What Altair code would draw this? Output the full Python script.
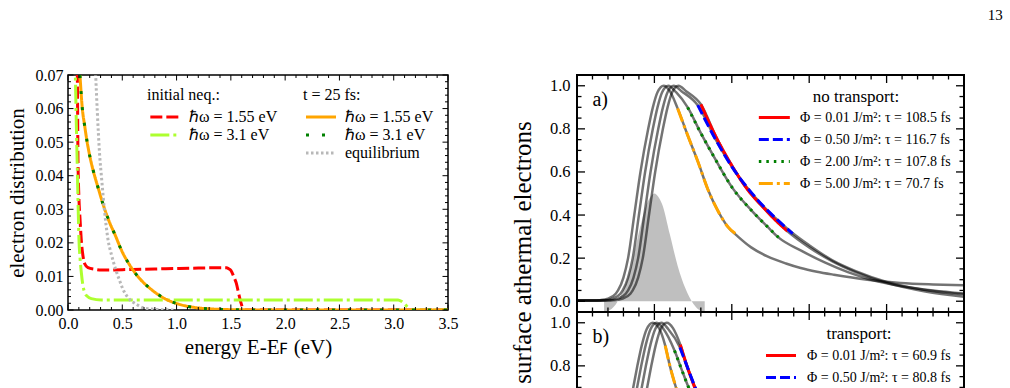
import altair as alt
import pandas as pd

FONT = "Liberation Serif"

# ---------------- left panel: electron distribution ----------------
init_names = ["ℏω = 1.55 eV", "ℏω = 3.1 eV"]
t25_names = ["ℏω = 1.55 eV", "ℏω = 3.1 eV", "equilibrium"]

E_red = [0.082, 0.086, 0.092, 0.100, 0.111, 0.122, 0.138, 0.155, 0.184, 0.25, 0.307, 0.6, 0.9,
         1.2, 1.4, 1.46, 1.48, 1.50, 1.53, 1.55, 1.57, 1.59, 1.61, 1.63, 3.5]
f_red = [0.076, 0.070, 0.0449, 0.034, 0.027, 0.021, 0.0161, 0.0137, 0.0126, 0.0121, 0.0119, 0.0121,
         0.0123, 0.0125, 0.0126, 0.0126, 0.0123, 0.0118, 0.0097, 0.0080, 0.0052, 0.0025, 0.0006, 0.0, 0.0]

E_yg = [0.062, 0.0675, 0.077, 0.086, 0.094, 0.101, 0.112, 0.123, 0.138, 0.154, 0.18, 0.215, 0.307,
        1.0, 2.0, 2.9, 3.04, 3.07, 3.10, 3.13, 3.16, 3.5]
f_yg = [0.076, 0.070, 0.055, 0.0419, 0.030, 0.0211, 0.015, 0.0111, 0.0072, 0.0052, 0.0040, 0.0034,
        0.0030, 0.0030, 0.0030, 0.0030, 0.0030, 0.0026, 0.0018, 0.0008, 0.0, 0.0]

E_or = [0.11, 0.132, 0.153, 0.175, 0.203, 0.239, 0.282, 0.325, 0.375, 0.436, 0.494, 0.568, 0.651,
        0.764, 0.89, 1.035, 1.18, 1.33, 1.49, 1.7, 2.0, 3.5]
f_or = [0.070, 0.060, 0.055, 0.0503, 0.0455, 0.0407, 0.0359, 0.0313, 0.0267, 0.0222, 0.0177, 0.0134,
        0.0097, 0.0062, 0.0034, 0.0016, 0.0007, 0.0003, 0.0001, 0.00003, 0.0, 0.0]

E_gr = [0.11, 0.132, 0.153, 0.175, 0.203, 0.239, 0.282, 0.325, 0.375, 0.436, 0.494, 0.568, 0.651,
        0.764, 0.89, 1.035, 1.18, 1.33, 1.49, 1.7, 2.0, 3.5]
f_gr = [0.070, 0.060, 0.055, 0.0503, 0.0455, 0.0407, 0.0359, 0.0313, 0.0267, 0.0222, 0.0177, 0.0134,
        0.0097, 0.0062, 0.0034, 0.0016, 0.0007, 0.0003, 0.0001, 0.00003, 0.0, 0.0]

E_eq = [0.245, 0.255, 0.27, 0.291, 0.31, 0.335, 0.368, 0.40, 0.44, 0.475, 0.506, 0.553, 0.63, 0.69, 0.8, 1.0]
f_eq = [0.078, 0.070, 0.059, 0.0464, 0.039, 0.030, 0.0211, 0.0165, 0.0120, 0.0088, 0.0062, 0.0037,
        0.0017, 0.0007, 0.0002, 0.0]

xL_major = [0.0, 0.5, 1.0, 1.5, 2.0, 2.5, 3.0, 3.5]
yL_major = [0.0, 0.01, 0.02, 0.03, 0.04, 0.05, 0.06, 0.07]

# ---------------- right panels: surface athermal electrons ----------------
pulse_t = [-65, -60, -50, -40, -30, -20, -10, -5, 0, 5, 10, 20, 30, 40, 50, 60, 65]
pulse_g = [-0.05, -0.045, -0.015, 0.055, 0.16, 0.32, 0.45, 0.485, 0.50, 0.485, 0.45, 0.31, 0.165,
           0.06, -0.01, -0.045, -0.05]

a1_t = [-100, -80, -70, -60, -50, -47, -40, -34, -26, -18, -8, -2, 4, 12, 20, 30, 43, 56, 69, 82,
        95, 108, 125, 146, 170, 189, 210, 232, 275, 318, 360, 400]
a1_y = [0.003, 0.003, 0.005, 0.012, 0.035, 0.05, 0.11, 0.20, 0.40, 0.60, 0.80, 0.90, 0.97, 1.0,
        0.975, 0.895, 0.77, 0.65, 0.52, 0.42, 0.345, 0.30, 0.25, 0.208, 0.175, 0.154, 0.137, 0.123,
        0.10, 0.085, 0.078, 0.074]
a2_t = [-100, -80, -64, -54, -44, -41, -34, -28, -20, -12, -2, 4, 10, 18, 28, 43, 60, 77, 101, 125,
        146, 161, 189, 220, 250, 280, 320, 360, 400]
a2_y = [0.003, 0.003, 0.005, 0.012, 0.035, 0.05, 0.11, 0.20, 0.40, 0.60, 0.80, 0.90, 0.97, 1.0,
        0.97, 0.90, 0.78, 0.67, 0.525, 0.423, 0.346, 0.294, 0.236, 0.18, 0.135, 0.10, 0.07, 0.05, 0.036]
a3_t = [-100, -80, -57, -47, -37, -34, -27, -21, -13, -5, 5, 11, 17, 25, 35, 56, 80, 100, 120, 140,
        160, 178, 200, 230, 260, 300, 350, 400]
a3_y = [0.003, 0.003, 0.005, 0.012, 0.035, 0.05, 0.11, 0.20, 0.40, 0.60, 0.80, 0.90, 0.97, 1.0,
        0.975, 0.91, 0.745, 0.625, 0.527, 0.444, 0.374, 0.318, 0.26, 0.19, 0.14, 0.09, 0.052, 0.032]
a4_t = [-100, -80, -51, -41, -31, -28, -21, -15, -7, 1, 11, 17, 23, 31, 41, 60, 80, 100, 120, 140,
        160, 172, 200, 230, 260, 300, 350, 400]
a4_y = [0.003, 0.003, 0.005, 0.012, 0.035, 0.05, 0.11, 0.20, 0.40, 0.60, 0.80, 0.90, 0.97, 1.0,
        0.975, 0.914, 0.76, 0.63, 0.52, 0.438, 0.364, 0.325, 0.25, 0.185, 0.135, 0.085, 0.045, 0.021]

fitA_names = ["Φ = 0.01 J/m²:  τ = 108.5 fs", "Φ = 0.50 J/m²:  τ = 116.7 fs",
              "Φ = 2.00 J/m²:  τ = 107.8 fs", "Φ = 5.00 J/m²:  τ = 70.7 fs"]
fa_red_t = [60, 80, 100, 120, 140, 160, 172]
fa_red_y = [0.914, 0.76, 0.63, 0.52, 0.438, 0.364, 0.325]
fa_blue_t = [56, 80, 100, 120, 140, 160, 178.6]
fa_blue_y = [0.91, 0.745, 0.625, 0.527, 0.444, 0.374, 0.314]
fa_green_t = [43, 60, 77, 101, 125, 146, 161]
fa_green_y = [0.90, 0.78, 0.67, 0.525, 0.423, 0.346, 0.294]
fa_orange_t = [30, 43, 56, 69, 82, 95, 107.6]
fa_orange_y = [0.895, 0.77, 0.65, 0.52, 0.42, 0.345, 0.307]

b1_t = [-100, -74, -64, -61, -54, -48, -40, -32, -22, -16, -10, -2, 6, 14, 20, 27, 40, 60, 80, 100,
        130, 160, 200, 250, 300, 400]
b1_y = [0.004, 0.012, 0.035, 0.05, 0.11, 0.20, 0.40, 0.60, 0.80, 0.90, 0.97, 1.0, 0.975, 0.894,
        0.80, 0.71, 0.56, 0.40, 0.29, 0.21, 0.14, 0.10, 0.07, 0.05, 0.04, 0.03]
b2_t = [-100, -69, -59, -56, -49, -43, -35, -27, -17, -11, -5, 3, 12, 26, 35, 43, 60, 80, 100, 120,
        150, 200, 250, 300, 400]
b2_y = [0.004, 0.012, 0.035, 0.05, 0.11, 0.20, 0.40, 0.60, 0.80, 0.90, 0.97, 1.0, 0.97, 0.871,
        0.785, 0.71, 0.58, 0.46, 0.36, 0.29, 0.21, 0.13, 0.08, 0.05, 0.03]
b3_t = [-100, -63, -53, -50, -43, -37, -29, -21, -11, -5, 1, 9, 18, 33, 42, 51, 70, 90, 110, 130,
        150, 200, 250, 300, 400]
b3_y = [0.004, 0.012, 0.035, 0.05, 0.11, 0.20, 0.40, 0.60, 0.80, 0.90, 0.97, 1.0, 0.97, 0.885,
        0.80, 0.715, 0.56, 0.44, 0.34, 0.27, 0.21, 0.12, 0.07, 0.045, 0.025]
b4_t = [-100, -56, -46, -43, -36, -30, -22, -14, -4, 2, 8, 16, 24, 33.5, 42, 51, 70, 90, 110, 130,
        150, 200, 250, 300, 400]
b4_y = [0.004, 0.012, 0.035, 0.05, 0.11, 0.20, 0.40, 0.60, 0.80, 0.90, 0.97, 1.0, 0.975, 0.898,
        0.80, 0.71, 0.52, 0.38, 0.28, 0.21, 0.16, 0.09, 0.05, 0.03, 0.015]

fitB_names = ["Φ = 0.01 J/m²:  τ = 60.9 fs", "Φ = 0.50 J/m²:  τ = 80.8 fs",
              "Φ = 2.00 J/m²", "Φ = 5.00 J/m²"]
fb_red_t = [33.5, 42, 51, 70, 90, 110, 130]
fb_red_y = [0.898, 0.80, 0.71, 0.52, 0.38, 0.28, 0.21]
fb_blue_t = [33, 42, 51, 70, 90, 110, 130, 150]
fb_blue_y = [0.885, 0.80, 0.715, 0.56, 0.44, 0.34, 0.27, 0.21]
fb_green_t = [26, 35, 43, 60, 80, 100, 120]
fb_green_y = [0.871, 0.785, 0.71, 0.58, 0.46, 0.36, 0.29]
fb_orange_t = [14, 20, 27, 40, 60, 80, 100]
fb_orange_y = [0.894, 0.80, 0.71, 0.56, 0.40, 0.29, 0.21]

xR_major = [-100, 0, 100, 200, 300, 400]
yR_major = [0.0, 0.2, 0.4, 0.6, 0.8, 1.0]
panel_labels = ["a)", "b)"]


def long_df(items, key="s"):
    rows = []
    for name, xs, ys in items:
        for k, (x, y) in enumerate(zip(xs, ys)):
            rows.append({key: name, "x": x, "y": y, "k": k})
    return pd.DataFrame(rows)


def frame_ticks(xmaj, xmin, ymaj, ymin, xs, ys, xax, yax, W, H, Lmaj, Lmin, sw):
    layers = []
    for vals, L in ((xmaj, Lmaj), (xmin, Lmin)):
        d = pd.DataFrame({"x": vals})
        for y0, y1 in ((H, H - L), (0, L)):
            layers.append(alt.Chart(d).mark_rule(color="black", strokeWidth=sw).encode(
                x=alt.X("x:Q", scale=xs, axis=xax), y=alt.value(y0), y2=alt.value(y1)))
    for vals, L in ((ymaj, Lmaj), (ymin, Lmin)):
        d = pd.DataFrame({"y": vals})
        for x0, x1 in ((0, L), (W, W - L)):
            layers.append(alt.Chart(d).mark_rule(color="black", strokeWidth=sw).encode(
                y=alt.Y("y:Q", scale=ys, axis=yax), x=alt.value(x0), x2=alt.value(x1)))
    return layers


def legend(title, lx, ly, sym_len, fs, tfs, rowpad, tpad, loff, anchor="start"):
    r = sym_len / 6.0
    return alt.Legend(title=title, orient="none", legendX=lx, legendY=ly,
                      symbolType="M-1,0H5", symbolSize=(2 * r) ** 2, symbolStrokeWidth=3,
                      symbolOffset=0, padding=0,
                      labelFont=FONT, labelFontSize=fs, labelColor="black", labelLimit=400,
                      labelOffset=loff,
                      titleFont=FONT, titleFontSize=tfs, titleFontWeight="normal",
                      titleColor="black", titleAnchor=anchor, titlePadding=tpad, titleLimit=400,
                      rowPadding=rowpad)


# ---------- left chart ----------
WL, HL = 380, 235
xsL = alt.Scale(domain=[0, 3.5], nice=False, zero=False)
ysL = alt.Scale(domain=[0, 0.07], nice=False, zero=False)

x_axis_L = alt.Axis(values=xL_major, format=".1f", ticks=False, domain=False, grid=False,
                    labelFont=FONT, labelFontSize=16, labelColor="black", labelPadding=5,
                    labelFlush=False, labelOverlap=False,
                    title="energy E-Eꜰ (eV)", titleFont=FONT, titleFontSize=21,
                    titleFontWeight="normal", titleColor="black", titlePadding=5)
y_axis_L = alt.Axis(values=yL_major, format=".2f", ticks=False, domain=False, grid=False,
                    labelFont=FONT, labelFontSize=16, labelColor="black", labelPadding=5,
                    labelFlush=False, labelOverlap=False,
                    title="electron distribution", titleFont=FONT, titleFontSize=21,
                    titleFontWeight="normal", titleColor="black", titlePadding=8)

# legend positions are relative to each panel's plot area
L1 = legend("initial neq.:", 79, 12, 28, 16, 16, 2, 6, 26)
L2 = legend("t =  25 fs:", 235, 12, 30, 16, 16, 2, 6, 26)

init_df = long_df([(init_names[0], E_red, f_red), (init_names[1], E_yg, f_yg)], "s1")
t25_df = long_df([(t25_names[0], E_or, f_or), (t25_names[1], E_gr, f_gr), (t25_names[2], E_eq, f_eq)], "s2")

init_layer = alt.Chart(init_df).mark_line(strokeWidth=3, clip=True, interpolate="monotone").encode(
    x=alt.X("x:Q", scale=xsL, axis=x_axis_L),
    y=alt.Y("y:Q", scale=ysL, axis=y_axis_L),
    color=alt.Color("s1:N", scale=alt.Scale(domain=init_names, range=["#ff0000", "#adff2f"]), legend=L1),
    strokeDash=alt.StrokeDash("s1:N", scale=alt.Scale(domain=init_names, range=[[12, 4], [19, 4, 3, 4]]),
                              legend=L1),
    order="k:Q",
)
t25_layer = alt.Chart(t25_df).mark_line(strokeWidth=3, clip=True, interpolate="monotone").encode(
    x=alt.X("x:Q", scale=xsL, axis=x_axis_L),
    y=alt.Y("y:Q", scale=ysL, axis=y_axis_L),
    color=alt.Color("s2:N", scale=alt.Scale(domain=t25_names, range=["#ffa500", "#008000", "#b8b8b8"]),
                    legend=L2),
    strokeDash=alt.StrokeDash("s2:N", scale=alt.Scale(domain=t25_names, range=[[1, 0], [3, 13], [2.5, 2.5]]),
                              legend=L2),
    order="k:Q",
)
ticksL = frame_ticks(xL_major, [i / 10 for i in range(1, 35) if i % 5],
                     yL_major, [i / 1000 for i in range(2, 70, 2) if i % 10],
                     xsL, ysL, x_axis_L, y_axis_L, WL, HL, 5.5, 3, 1)

left = alt.layer(init_layer, t25_layer, *ticksL).resolve_scale(
    color="independent", strokeDash="independent"
).properties(width=WL, height=HL, view=alt.ViewBackground(stroke="black", strokeWidth=1.5))

# ---------- right charts ----------
WR, HR = 387, 237
GAP = 129
xsR = alt.Scale(domain=[-100, 400], nice=False, zero=False)
ysR = alt.Scale(domain=[-0.05, 1.05], nice=False, zero=False)
fit_colors = ["#ff0000", "#0000ff", "#008000", "#ffa500"]
fit_dashes = [[1, 0], [10, 4], [2.5, 5], [14, 4, 3, 4]]


def y_axis_R(with_title):
    kw = dict(values=yR_major, format=".1f", ticks=False, domain=False, grid=False,
              labelFont=FONT, labelFontSize=16.5, labelColor="black", labelPadding=7,
              labelFlush=False, labelOverlap=False)
    if with_title:
        kw.update(title="surface athermal electrons", titleFont=FONT, titleFontSize=25,
                  titleFontWeight="normal", titleColor="black", titlePadding=14, titleY=177)
    else:
        kw.update(title="")
    return alt.Axis(**kw)


def right_panel(gray_items, fit_items, names, leg, label, with_title, key):
    yax = y_axis_R(with_title)
    pulse = alt.Chart(pd.DataFrame({"x": pulse_t, "y": pulse_g})).mark_area(
        color="#bfbfbf", clip=True, interpolate="monotone").encode(
        x=alt.X("x:Q", scale=xsR, axis=None),
        y=alt.Y("y:Q", scale=ysR, axis=yax),
        y2=alt.value(HR))
    gray = alt.Chart(long_df(gray_items, "c")).mark_line(
        color="black", opacity=0.55, strokeWidth=2.5, clip=True, interpolate="monotone").encode(
        x=alt.X("x:Q", scale=xsR, axis=None),
        y=alt.Y("y:Q", scale=ysR, axis=yax),
        detail="c:N", order="k:Q")
    fits = alt.Chart(long_df(fit_items, key)).mark_line(strokeWidth=3, clip=True, interpolate="monotone").encode(
        x=alt.X("x:Q", scale=xsR, axis=None),
        y=alt.Y("y:Q", scale=ysR, axis=yax),
        color=alt.Color(key + ":N", scale=alt.Scale(domain=names, range=fit_colors), legend=leg),
        strokeDash=alt.StrokeDash(key + ":N", scale=alt.Scale(domain=names, range=fit_dashes), legend=leg),
        order="k:Q")
    lab = alt.Chart(pd.DataFrame({"x": [-80], "y": [0.935], "lab": [label]})).mark_text(
        font=FONT, fontSize=20, align="left", baseline="middle", color="black").encode(
        x=alt.X("x:Q", scale=xsR, axis=None), y=alt.Y("y:Q", scale=ysR, axis=yax), text="lab:N")
    ticks = frame_ticks(xR_major, [t for t in range(-80, 400, 20) if t % 100],
                        yR_major, [i / 100 for i in range(5, 101, 5) if i % 20],
                        xsR, ysR, None, yax, WR, HR, 8, 4.5, 1.3)
    return alt.layer(pulse, gray, fits, lab, *ticks).properties(
        width=WR, height=HR, view=alt.ViewBackground(stroke="black", strokeWidth=2))


LA = legend("no transport:", 180, 14, 31, 14, 17, 8, 4.5, 29, anchor="middle")
LB = legend("transport:", 187, 14, 30, 14, 17, 8, 5.5, 29, anchor="middle")

panel_a = right_panel(
    [("c1", a1_t, a1_y), ("c2", a2_t, a2_y), ("c3", a3_t, a3_y), ("c4", a4_t, a4_y)],
    [(fitA_names[0], fa_red_t, fa_red_y), (fitA_names[1], fa_blue_t, fa_blue_y),
     (fitA_names[2], fa_green_t, fa_green_y), (fitA_names[3], fa_orange_t, fa_orange_y)],
    fitA_names, LA, panel_labels[0], True, "fa")
panel_b = right_panel(
    [("c1", b1_t, b1_y), ("c2", b2_t, b2_y), ("c3", b3_t, b3_y), ("c4", b4_t, b4_y)],
    [(fitB_names[0], fb_red_t, fb_red_y), (fitB_names[1], fb_blue_t, fb_blue_y),
     (fitB_names[2], fb_green_t, fb_green_y), (fitB_names[3], fb_orange_t, fb_orange_y)],
    fitB_names, LB, panel_labels[1], False, "fb")

placeholder = alt.Chart(pd.DataFrame({"v": [0]})).mark_point(opacity=0).encode(
    x=alt.X("v:Q", axis=None), y=alt.Y("v:Q", axis=None)
).properties(width=1, height=1, view=alt.ViewBackground(stroke="transparent"))

chart = alt.concat(
    left, panel_a, placeholder, panel_b,
    columns=2, spacing=alt.RowColnumber(row=0, column=GAP), bounds="flush", align="each",
    title=alt.TitleParams("13", anchor="end", font=FONT, fontSize=15, fontWeight="normal",
                          color="black", offset=43, dx=37),
).resolve_scale(color="independent", strokeDash="independent").properties(
    padding={"left": 5, "top": 8, "right": 5, "bottom": 5}).configure(font=FONT)

chart.save("out.html", embed_options={"renderer": "svg", "actions": False})
